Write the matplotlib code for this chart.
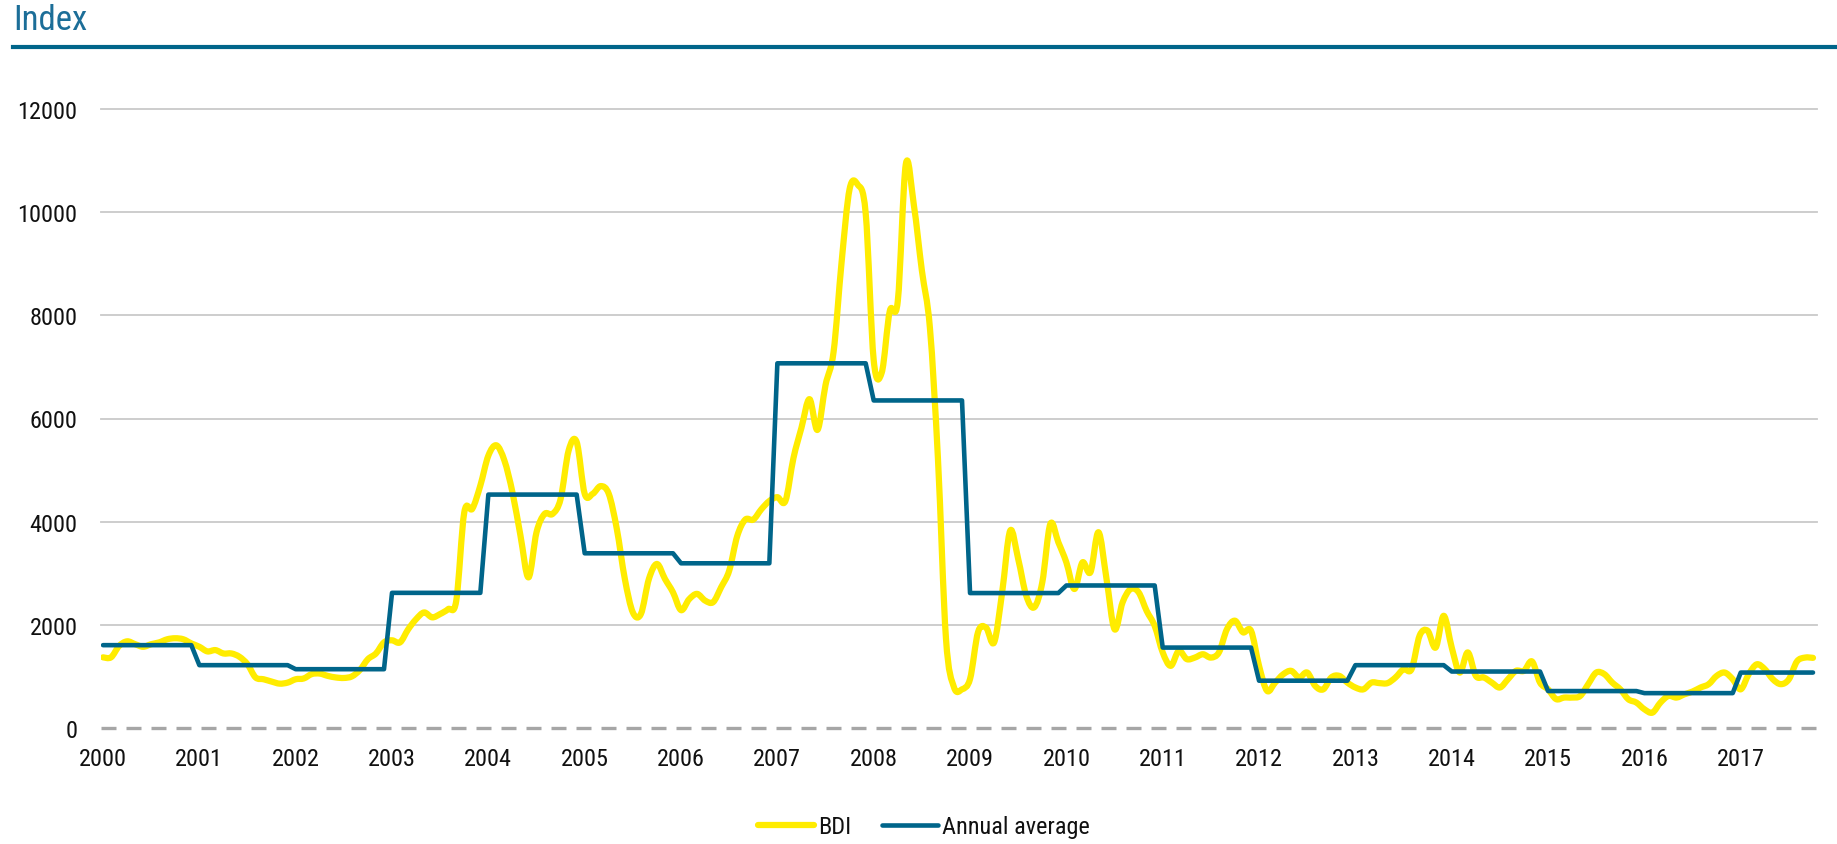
import matplotlib
matplotlib.use("Agg")
import matplotlib.pyplot as plt
from matplotlib import font_manager
from matplotlib.path import Path
from matplotlib.patches import PathPatch
from matplotlib.lines import Line2D
import numpy as np

# ---------------- data ----------------
years = list(range(2000, 2018))
year_labels = [str(y) for y in years]

bdi_2000 = [1370, 1370, 1590, 1680, 1625, 1575, 1625, 1660, 1720, 1740, 1720, 1640]
bdi_2001 = [1575, 1485, 1510, 1445, 1445, 1380, 1235, 980, 945, 900, 860, 880]
bdi_2002 = [945, 960, 1045, 1055, 1010, 980, 970, 1000, 1125, 1335, 1445, 1660]
bdi_2003 = [1700, 1660, 1910, 2110, 2240, 2145, 2210, 2305, 2465, 4180, 4250, 4700]
bdi_2004 = [5280, 5480, 5185, 4570, 3730, 2920, 3795, 4150, 4150, 4440, 5380, 5545]
bdi_2005 = [4540, 4540, 4690, 4540, 3860, 2890, 2240, 2210, 2890, 3180, 2890, 2630]
bdi_2006 = [2285, 2495, 2600, 2470, 2440, 2730, 3050, 3720, 4040, 4040, 4240, 4400]
bdi_2007 = [4475, 4400, 5230, 5820, 6375, 5780, 6650, 7290, 9030, 10450, 10535, 9980]
bdi_2008 = [7130, 6890, 8080, 8275, 10930, 10140, 8870, 7760, 5230, 1740, 790, 750]
bdi_2009 = [950, 1860, 1945, 1660, 2630, 3825, 3275, 2565, 2340, 2825, 3955, 3600]
bdi_2010 = [3210, 2695, 3210, 3020, 3795, 2890, 1915, 2435, 2695, 2630, 2270, 1980]
bdi_2011 = [1465, 1205, 1495, 1335, 1365, 1430, 1365, 1465, 1915, 2080, 1855, 1885]
bdi_2012 = [1205, 720, 880, 1040, 1108, 980, 1075, 815, 750, 980, 1010, 880]
bdi_2013 = [785, 750, 880, 870, 870, 980, 1140, 1140, 1790, 1885, 1560, 2175]
bdi_2014 = [1560, 1075, 1465, 1010, 980, 880, 785, 945, 1108, 1108, 1290, 880]
bdi_2015 = [750, 560, 590, 590, 620, 850, 1075, 1045, 880, 750, 557, 493]
bdi_2016 = [363, 298, 493, 621, 590, 654, 707, 785, 849, 1010, 1075, 946]
bdi_2017 = [750, 1045, 1235, 1140, 945, 850, 945, 1290, 1365, 1360]

bdi_by_year = [bdi_2000, bdi_2001, bdi_2002, bdi_2003, bdi_2004, bdi_2005,
               bdi_2006, bdi_2007, bdi_2008, bdi_2009, bdi_2010, bdi_2011,
               bdi_2012, bdi_2013, bdi_2014, bdi_2015, bdi_2016, bdi_2017]

annual_avg = [1606, 1218, 1140, 2620, 4525, 3387, 3193, 7070, 6350,
              2616, 2763, 1559, 917, 1218, 1095, 716, 676, 1075]

bdi = [v for yr in bdi_by_year for v in yr]
avg_monthly = [a for a, yr in zip(annual_avg, bdi_by_year) for _ in yr]
x = np.arange(len(bdi))

# ---------------- style ----------------
avail = {f.name for f in font_manager.fontManager.ttflist}
fam = None
for cand in ["Liberation Sans Narrow", "Roboto Condensed", "Open Sans Condensed",
             "Noto Sans Condensed", "Liberation Sans"]:
    if cand in avail:
        fam = cand
        break
if fam is None:
    fam = "DejaVu Sans"
plt.rcParams["font.family"] = [fam, "DejaVu Sans"]

YELLOW = "#FFEC00"
BLUE = "#00658A"
TITLE_BLUE = "#1C6E98"

W, H = 1837, 845
fig = plt.figure(figsize=(W / 100, H / 100), dpi=100)
ax = fig.add_axes([101 / W, 1 - 729 / H, (1817 - 101) / W, (729 - 110) / H])


def smooth_path(xs, ys):
    """Excel-style smoothed line: cubic Bezier through every data point."""
    xs = np.asarray(xs, float)
    ys = np.asarray(ys, float)
    n = len(xs)
    verts = [(xs[0], ys[0])]
    codes = [Path.MOVETO]
    for i in range(n - 1):
        i0 = max(i - 1, 0)
        i3 = min(i + 2, n - 1)
        c1 = (xs[i] + (xs[i + 1] - xs[i0]) / 6, ys[i] + (ys[i + 1] - ys[i0]) / 6)
        c2 = (xs[i + 1] - (xs[i3] - xs[i]) / 6, ys[i + 1] - (ys[i3] - ys[i]) / 6)
        verts += [c1, c2, (xs[i + 1], ys[i + 1])]
        codes += [Path.CURVE4] * 3
    return Path(verts, codes)


ax.add_patch(PathPatch(smooth_path(x, bdi), facecolor="none", edgecolor=YELLOW,
                       lw=4.5, joinstyle="round", capstyle="round", zorder=3))
ax.plot(x, avg_monthly, color=BLUE, lw=3.3, solid_joinstyle="round",
        solid_capstyle="round", zorder=4)

ax.set_xlim(-0.25, len(bdi) - 1 + 0.5)
ax.set_ylim(0, 12000)
ax.set_yticks(np.arange(0, 12001, 2000))
ax.set_yticklabels([str(v) for v in range(0, 12001, 2000)])
ax.set_xticks(np.arange(0, len(bdi), 12))
ax.set_xticklabels(year_labels)

for v in range(2000, 12001, 2000):
    ax.axhline(v, color="#C9C9C9", lw=1.3, zorder=1, clip_on=False)
ax.axhline(0, color="#A6A6A6", lw=2.4, ls=(0, (4.5, 3)), zorder=2, clip_on=False)

for s in ax.spines.values():
    s.set_visible(False)
ax.tick_params(axis="both", length=0, labelsize=17.5, colors="#111111")
ax.tick_params(axis="y", pad=17)
ax.tick_params(axis="x", pad=14)

# title & rule
fig.text(13 / W, 1 - 21 / H, "Index", fontsize=25, color=TITLE_BLUE,
         ha="left", va="center")
fig.add_artist(Line2D([13 / W, 1.0], [1 - 47.5 / H, 1 - 47.5 / H],
                      color=BLUE, lw=3.0, transform=fig.transFigure))

handles = [Line2D([], [], color=YELLOW, lw=4.5, solid_capstyle="round"),
           Line2D([], [], color=BLUE, lw=3.3, solid_capstyle="round")]
leg = fig.legend(handles, ["BDI", "Annual average"], loc="center",
                 bbox_to_anchor=(924 / W, 1 - 828 / H), ncol=2,
                 frameon=False, fontsize=17.5, handlelength=2.3,
                 handletextpad=0.15, columnspacing=1.3)
for t in leg.get_texts():
    t.set_color("#111111")

fig.savefig("out.png", dpi=100)
